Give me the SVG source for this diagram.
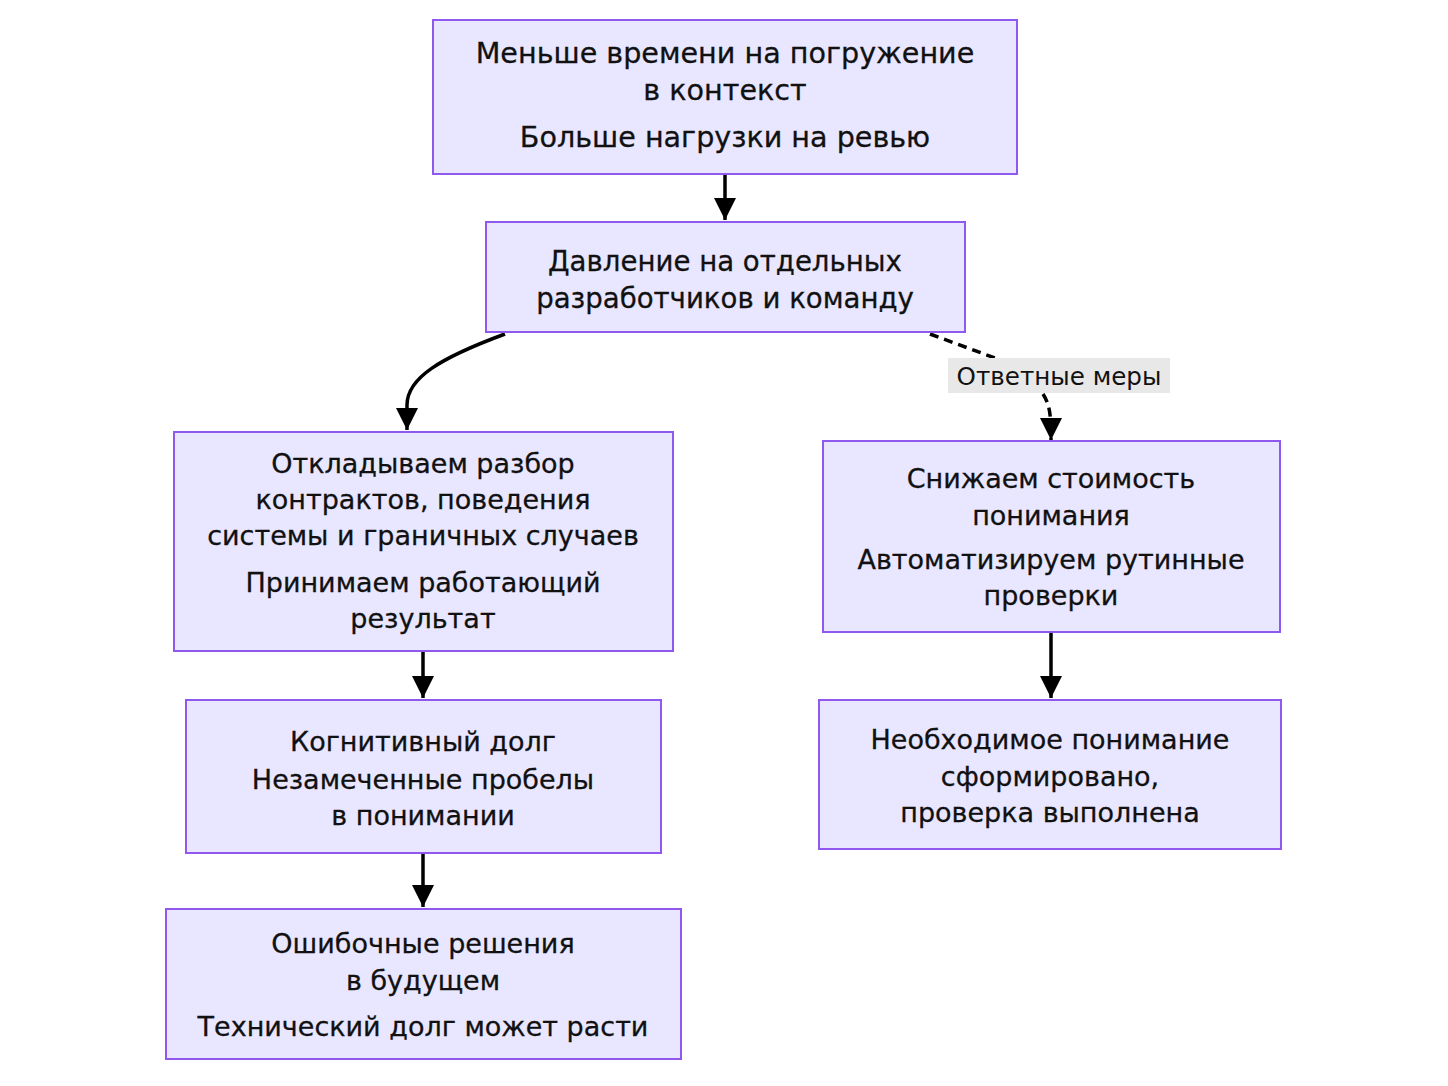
<svg xmlns="http://www.w3.org/2000/svg" width="1448" height="1086" viewBox="0 0 1448 1086">
<defs>
<style>
.node rect{fill:#E9E6FF;stroke:#9058EC;stroke-width:2}
.node text{font-family:"DejaVu Sans",Verdana,sans-serif;font-size:27px;fill:#111;stroke:#111;stroke-width:0.3;text-anchor:middle;dominant-baseline:central}
#n1 text{font-size:28.6px}
#n2 text{font-size:27.6px}
.edge{fill:none;stroke:#000;stroke-width:3.5}
.dash{stroke-dasharray:9 6}
.lbl rect{fill:#E8E8E8}
.lbl text{font-family:"DejaVu Sans",Verdana,sans-serif;font-size:24.6px;fill:#111;text-anchor:middle;dominant-baseline:central}
</style>
<marker id="ah" viewBox="0 0 12 12" refX="12" refY="6" markerWidth="22" markerHeight="22" markerUnits="userSpaceOnUse" orient="auto">
<path d="M0,0 L12,6 L0,12 z" fill="#000"/>
</marker>
</defs>
<rect width="1448" height="1086" fill="#fff"/>
<g id="edges">
<path class="edge" d="M725,175 L725,220" marker-end="url(#ah)"/>
<path class="edge" d="M505,334 C440,358 407,378 407,405 L407,430" marker-end="url(#ah)"/>
<path class="edge dash" d="M930,334 L995,358"/>
<path class="edge dash" d="M1043,394 C1050,405 1051,415 1051,440" marker-end="url(#ah)"/>
<path class="edge" d="M423,652 L423,698" marker-end="url(#ah)"/>
<path class="edge" d="M1051,633 L1051,698" marker-end="url(#ah)"/>
<path class="edge" d="M423,854 L423,907" marker-end="url(#ah)"/>
</g>
<g id="edge-label" class="lbl">
<rect x="948" y="358" width="222" height="35"/>
<text x="1059" y="376">Ответные меры</text>
</g>
<g id="n1" class="node">
<rect x="433" y="20" width="584" height="154"/>
<text x="725" y="53">Меньше времени на погружение</text>
<text x="725" y="90">в контекст</text>
<text x="725" y="137">Больше нагрузки на ревью</text>
</g>
<g id="n2" class="node">
<rect x="486" y="222" width="479" height="110"/>
<text x="725" y="261">Давление на отдельных</text>
<text x="725" y="298">разработчиков и команду</text>
</g>
<g id="n3" class="node">
<rect x="174" y="432" width="499" height="219"/>
<text x="423" y="463">Откладываем разбор</text>
<text x="423" y="499">контрактов, поведения</text>
<text x="423" y="535">системы и граничных случаев</text>
<text x="423" y="582">Принимаем работающий</text>
<text x="423" y="618">результат</text>
</g>
<g id="n4" class="node">
<rect x="186" y="700" width="475" height="153"/>
<text x="423" y="741">Когнитивный долг</text>
<text x="423" y="779">Незамеченные пробелы</text>
<text x="423" y="815">в понимании</text>
</g>
<g id="n5" class="node">
<rect x="166" y="909" width="515" height="150"/>
<text x="423" y="943">Ошибочные решения</text>
<text x="423" y="980">в будущем</text>
<text x="423" y="1026">Технический долг может расти</text>
</g>
<g id="n6" class="node">
<rect x="823" y="441" width="457" height="191"/>
<text x="1051" y="478">Снижаем стоимость</text>
<text x="1051" y="515">понимания</text>
<text x="1051" y="559">Автоматизируем рутинные</text>
<text x="1051" y="595">проверки</text>
</g>
<g id="n7" class="node">
<rect x="819" y="700" width="462" height="149"/>
<text x="1050" y="739">Необходимое понимание</text>
<text x="1050" y="776">сформировано,</text>
<text x="1050" y="812">проверка выполнена</text>
</g>
</svg>
